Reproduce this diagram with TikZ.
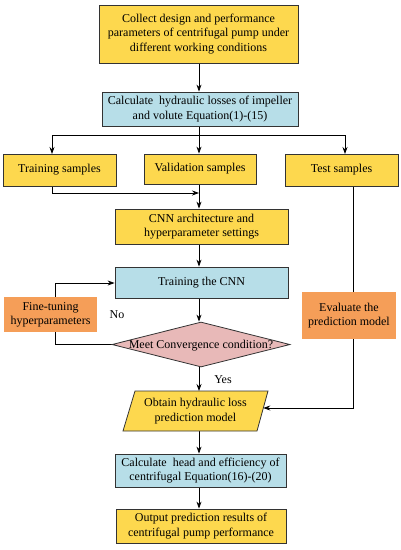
\documentclass[tikz,border=0pt]{standalone}
\usepackage{fontspec}
\setmainfont{Liberation Serif}
\usetikzlibrary{arrows.meta,backgrounds,shapes.geometric}
\definecolor{cyel}{HTML}{FDD84E}
\definecolor{cblue}{HTML}{B7DEE8}
\definecolor{corange}{HTML}{F59E58}
\definecolor{cpink}{HTML}{E8B9B8}
\definecolor{cline}{HTML}{333333}
\begin{document}
\begin{tikzpicture}[x=1pt,y=-1pt,
  font=\fontsize{12}{14.3}\selectfont,
  box/.style={draw=cline,line width=0.8pt,align=center,inner sep=1pt},
  ybox/.style={box,fill=cyel},
  bbox/.style={box,fill=cblue},
  obox/.style={align=center,inner sep=1pt,fill=corange},
  conn/.style={draw=black,line width=0.8pt},
  arr/.style={conn,-{Stealth[length=7pt,width=5pt]}}]
\useasboundingbox (0,0) rectangle (401,550);
% nodes
\node[ybox,minimum width=199pt,minimum height=58pt] (collect) at (198.5,34)
  {Collect design and performance\\parameters of centrifugal pump under\\different working conditions};
\node[bbox,minimum width=196pt,minimum height=34pt] (calc1) at (200,109)
  {Calculate\ \ hydraulic losses of impeller\\and volute Equation(1)-(15)};
\node[ybox,minimum width=113pt,minimum height=32pt] (train) at (59.5,170) {Training samples};
\node[ybox,minimum width=112pt,minimum height=30pt] (valid) at (200,169) {Validation samples};
\node[ybox,minimum width=113pt,minimum height=32pt] (test) at (341.5,170) {Test samples};
\node[ybox,minimum width=173pt,minimum height=35pt] (cnn) at (201.5,226.5)
  {CNN architecture and\\hyperparameter settings};
\node[bbox,minimum width=173pt,minimum height=31pt] (trcnn) at (201.5,282.5) {Training the CNN};
\node[obox,minimum width=93pt,minimum height=35pt] (fine) at (50.5,314.5)
  {Fine-tuning\\hyperparameters};
\node[obox,minimum width=94pt,minimum height=47pt] (eval) at (349,315.5)
  {Evaluate the\\prediction model};
\node[diamond,draw=cline,line width=0.8pt,fill=cpink,aspect=3.96,inner sep=0pt,
  minimum width=178pt,minimum height=45pt] (meet) at (201,344.5) {};
\node at (201,346) {Meet Convergence condition?};
\draw[draw=cline,line width=0.8pt,fill=cyel] (123,431) -- (135,391) -- (268,391) -- (257,431) -- cycle;
\node[align=center,inner sep=0pt,minimum width=120pt,minimum height=40pt] (obtain) at (195.5,411)
  {Obtain hydraulic loss\\prediction model};
\coordinate (obtainR) at (263.3,408);
\coordinate (obtainT) at (199,391);
\coordinate (obtainB) at (199,431);
\node[bbox,minimum width=171pt,minimum height=33pt] (calc2) at (200.5,470.5)
  {Calculate\ \ head and efficiency of\\centrifugal Equation(16)-(20)};
\node[ybox,minimum width=170pt,minimum height=34pt] (out) at (201,526)
  {Output prediction results of\\centrifugal pump performance};
\node (no) at (117,315) {No};
\node (yes) at (223,380) {Yes};
% connectors
\begin{pgfonlayer}{background}
\coordinate (split) at (199,135);
\coordinate (join) at (199,193);
\draw[arr] (collect.south -| split) -- (calc1.north -| split);
\draw[conn] (calc1.south -| split) -- (split);
\draw[arr] (split) -| (52,154);
\draw[arr] (split) -| (345,154);
\draw[arr] (split) -- (valid.north -| split);
\draw[arr] (52,186) |- (join);
\draw[arr] (valid.south -| split) -- (cnn.north -| split);
\draw[arr] (cnn.south -| split) -- (trcnn.north -| split);
\draw[arr] (trcnn.south -| split) -- (meet.north -| split);
\draw[arr] (meet.west) -| (55,283) -- (trcnn.west |- 0,283);
\draw[arr] (meet.south -| split) -- (obtainT);
\draw[arr] (353,186) |- (obtainR);
\draw[arr] (obtainB) -- (calc2.north -| split);
\draw[arr] (calc2.south -| split) -- (out.north -| split);
\end{pgfonlayer}
\end{tikzpicture}
\end{document}
